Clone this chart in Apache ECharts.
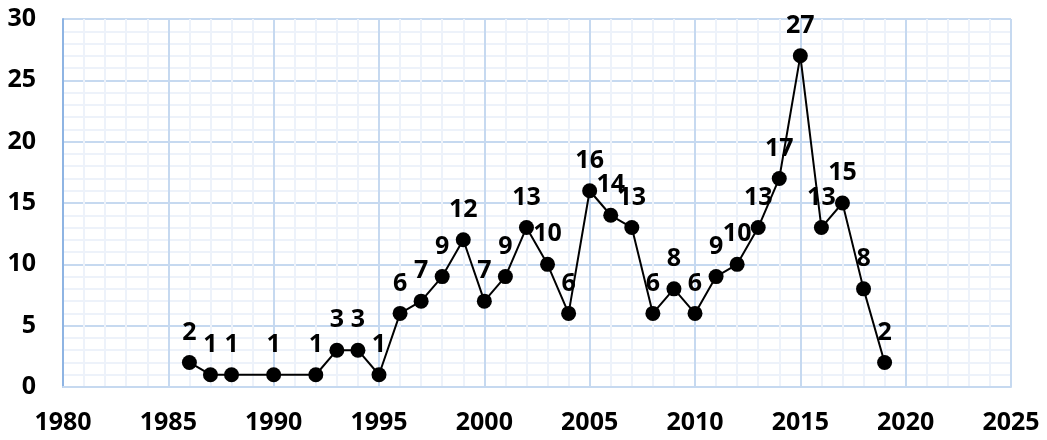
<!DOCTYPE html>
<html>
<head>
<meta charset="utf-8">
<script src="https://cdn.jsdelivr.net/npm/echarts@6/dist/echarts.min.js"></script>
<style>
  html, body { margin: 0; padding: 0; background: #fff; }
  #chart { width: 1047px; height: 440px; }
</style>
</head>
<body>
<div id="chart"></div>
<script>
  var years = [1986, 1987, 1988, 1990, 1992, 1993, 1994, 1995, 1996, 1997, 1998, 1999,
               2000, 2001, 2002, 2003, 2004, 2005, 2006, 2007, 2008, 2009, 2010, 2011,
               2012, 2013, 2014, 2015, 2016, 2017, 2018, 2019];
  var counts = [2, 1, 1, 1, 1, 3, 3, 1, 6, 7, 9, 12,
                7, 9, 13, 10, 6, 16, 14, 13, 6, 8, 6, 9,
                10, 13, 17, 27, 13, 15, 8, 2];

  var points = years.map(function (y, i) { return [y, counts[i]]; });
  var font = '"Open Sans", "Liberation Sans", sans-serif';

  var chart = echarts.init(document.getElementById('chart'));
  chart.setOption({
    animation: false,
    grid: { left: 63, right: 36, top: 19, bottom: 53 },
    xAxis: {
      type: 'value',
      min: 1980,
      max: 2025,
      interval: 5,
      axisLine: { show: true, lineStyle: { color: '#c6d9f0', width: 2 } },
      axisTick: { show: false },
      axisLabel: {
        color: '#000', fontFamily: font, fontWeight: 'bold', fontSize: 25, margin: 23,
        formatter: function (v) { return String(v); }
      },
      splitLine: { show: true, lineStyle: { color: '#c6d9f0', width: 2 } },
      minorSplitLine: { show: true, lineStyle: { color: '#edf2fa', width: 2 } },
      minorTick: { show: false, splitNumber: 5 }
    },
    yAxis: {
      type: 'value',
      min: 0,
      max: 30,
      interval: 5,
      axisLine: { show: true, lineStyle: { color: '#8eb4e3', width: 2 } },
      axisTick: { show: false },
      axisLabel: {
        color: '#000', fontFamily: font, fontWeight: 'bold', fontSize: 25, margin: 27
      },
      splitLine: { show: true, lineStyle: { color: '#c6d9f0', width: 2 } },
      minorSplitLine: { show: true, lineStyle: { color: '#edf2fa', width: 2 } },
      minorTick: { show: false, splitNumber: 5 }
    },
    series: [{
      type: 'line',
      data: points,
      symbol: 'circle',
      symbolSize: 15,
      itemStyle: { color: '#000' },
      lineStyle: { color: '#000', width: 2 },
      label: {
        show: true,
        position: 'top',
        distance: 10,
        color: '#000',
        fontFamily: font,
        fontWeight: 'bold',
        fontSize: 25,
        formatter: function (p) { return p.value[1]; }
      }
    }]
  });
</script>
</body>
</html>
